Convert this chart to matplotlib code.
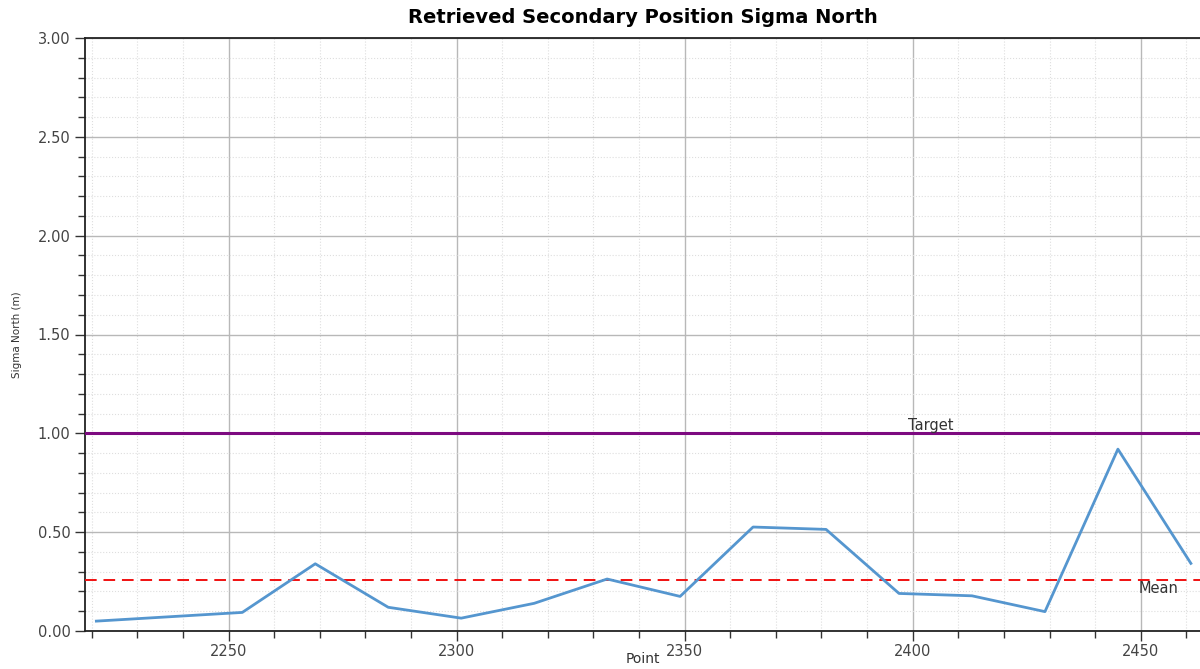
import numpy as np
import matplotlib
matplotlib.use("Agg")
import matplotlib.pyplot as plt
from matplotlib.ticker import MultipleLocator, FormatStrFormatter

# retrieved secondary position sigma north per point
points = [2221, 2253, 2269, 2285, 2301, 2317, 2333, 2349, 2365, 2381,
          2397, 2413, 2429, 2445, 2461]
sigma_north = [0.050, 0.094, 0.340, 0.120, 0.065, 0.140, 0.263, 0.175, 0.526, 0.514,
               0.190, 0.178, 0.098, 0.920, 0.342]

target_sigma = 1.0
mean_sigma = 0.256

plt.rcParams['font.family'] = ['DejaVu Sans']

fig = plt.figure(figsize=(12, 6.69), dpi=100)
ax = fig.add_axes([0.0708, 0.0568, 0.9292, 0.8864])

ax.plot(points, sigma_north, color='#5596cf', lw=2.0, zorder=4)
ax.axhline(target_sigma, color='#7d0a80', lw=2.2, zorder=3)
ax.axhline(mean_sigma, color='#f01010', lw=1.4, ls=(0, (6, 3.5)), zorder=3)

ax.text(2404, target_sigma + 0.003, 'Target', ha='center', va='bottom',
        fontsize=10.5, color='#333333')
ax.text(2454, mean_sigma - 0.005, 'Mean', ha='center', va='top',
        fontsize=10.5, color='#333333')

ax.set_xlim(2218.5, 2463.0)
ax.set_ylim(0, 3.0)

ax.xaxis.set_major_locator(MultipleLocator(50))
ax.xaxis.set_minor_locator(MultipleLocator(10))
ax.yaxis.set_major_locator(MultipleLocator(0.5))
ax.yaxis.set_minor_locator(MultipleLocator(0.1))
ax.yaxis.set_major_formatter(FormatStrFormatter('%.2f'))

ax.grid(which='major', color='#b8b8b8', lw=1.0, ls='-', zorder=0)
ax.grid(which='minor', color='#dedede', lw=0.8, ls=':', zorder=0)
ax.set_axisbelow(True)

ax.tick_params(which='major', direction='out', length=7, width=1,
               color='#333333', labelsize=10.5, labelcolor='#444444')
ax.tick_params(axis='x', which='major', pad=2)
ax.tick_params(which='minor', direction='out', length=5, width=1, color='#333333')

ax.spines['right'].set_visible(False)
for side in ('left', 'top', 'bottom'):
    ax.spines[side].set_color('#222222')
    ax.spines[side].set_linewidth(1.3)

ax.set_title('Retrieved Secondary Position Sigma North', fontsize=14,
             fontweight='bold', pad=11)
ax.set_xlabel('Point', fontsize=10, color='#333333')
ax.xaxis.set_label_coords(0.5, -0.036)
ax.set_ylabel('Sigma North (m)', fontsize=7.5, color='#333333', labelpad=11)

fig.savefig('out.png', dpi=100)
